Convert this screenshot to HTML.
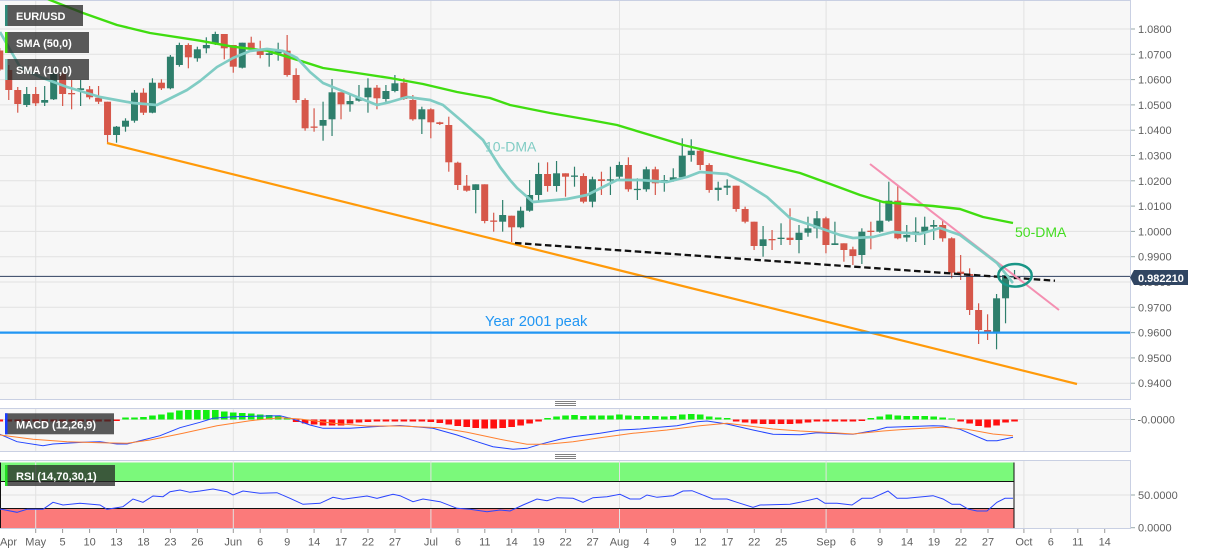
<!DOCTYPE html>
<html><head><meta charset="utf-8">
<style>
html,body{margin:0;padding:0;background:#fff;width:1207px;height:555px;overflow:hidden;}
svg{display:block;font-family:"Liberation Sans",Arial,sans-serif;}
</style></head><body>
<svg id="c" width="1207" height="555" viewBox="0 0 1207 555" xmlns="http://www.w3.org/2000/svg">
<rect width="1207" height="555" fill="#fff"/>
<rect x="0" y="0.5" width="1130" height="398.5" fill="#f7f7f7"/>
<rect x="0" y="408.5" width="1130" height="43" fill="#f7f7f7"/>
<rect x="0" y="460.5" width="1130" height="68" fill="#f7f7f7"/>

<!-- grid -->
<g stroke="#e2e2e2" stroke-width="1">
<line x1="0" x2="1130" y1="29" y2="29"/><line x1="0" x2="1130" y1="54.3" y2="54.3"/><line x1="0" x2="1130" y1="79.6" y2="79.6"/><line x1="0" x2="1130" y1="104.9" y2="104.9"/><line x1="0" x2="1130" y1="130.2" y2="130.2"/><line x1="0" x2="1130" y1="155.5" y2="155.5"/><line x1="0" x2="1130" y1="180.8" y2="180.8"/><line x1="0" x2="1130" y1="206.1" y2="206.1"/><line x1="0" x2="1130" y1="231.4" y2="231.4"/><line x1="0" x2="1130" y1="256.7" y2="256.7"/><line x1="0" x2="1130" y1="282" y2="282"/><line x1="0" x2="1130" y1="307.3" y2="307.3"/><line x1="0" x2="1130" y1="332.6" y2="332.6"/><line x1="0" x2="1130" y1="357.9" y2="357.9"/><line x1="0" x2="1130" y1="383.2" y2="383.2"/>
<line x1="35.7" x2="35.7" y1="0" y2="399"/><line x1="233.3" x2="233.3" y1="0" y2="399"/><line x1="430.9" x2="430.9" y1="0" y2="399"/><line x1="619.5" x2="619.5" y1="0" y2="399"/><line x1="826.1" x2="826.1" y1="0" y2="399"/><line x1="1023.9" x2="1023.9" y1="0" y2="399"/>
<line x1="0" x2="1130" y1="419.5" y2="419.5"/>
<line x1="35.7" x2="35.7" y1="408" y2="452"/><line x1="233.3" x2="233.3" y1="408" y2="452"/><line x1="430.9" x2="430.9" y1="408" y2="452"/><line x1="619.5" x2="619.5" y1="408" y2="452"/><line x1="826.1" x2="826.1" y1="408" y2="452"/><line x1="1023.9" x2="1023.9" y1="408" y2="452"/>
</g>

<!-- RSI bands -->
<rect x="0" y="462.5" width="1014" height="19" fill="#7bf97b"/>
<rect x="0" y="508.5" width="1014" height="19.5" fill="#fb7a7a"/>
<g stroke="#e2e2e2" stroke-width="1">
<line x1="0" x2="1130" y1="495" y2="495"/>
<line x1="35.7" x2="35.7" y1="461" y2="528"/><line x1="233.3" x2="233.3" y1="461" y2="528"/><line x1="430.9" x2="430.9" y1="461" y2="528"/><line x1="619.5" x2="619.5" y1="461" y2="528"/><line x1="826.1" x2="826.1" y1="461" y2="528"/><line x1="1023.9" x2="1023.9" y1="461" y2="528"/>
</g>
<g stroke="#111" stroke-width="1">
<line x1="0" x2="1014" y1="481.5" y2="481.5"/>
<line x1="0" x2="1014" y1="508.5" y2="508.5"/>
<line x1="1014" x2="1014" y1="462.5" y2="528"/>
<line x1="0.5" x2="0.5" y1="462.5" y2="528"/>
</g>

<!-- borders -->
<g stroke="#c9d0e3" stroke-width="1" fill="none">
<line x1="0" x2="1131" y1="0.5" y2="0.5"/><line x1="1130.5" x2="1130.5" y1="0" y2="399.5"/><line x1="0" x2="1131" y1="399.5" y2="399.5"/>
<line x1="0" x2="1131" y1="408.5" y2="408.5"/><line x1="1130.5" x2="1130.5" y1="408" y2="452"/><line x1="0" x2="1131" y1="451.5" y2="451.5"/>
<line x1="0" x2="1131" y1="460.5" y2="460.5"/><line x1="1130.5" x2="1130.5" y1="460" y2="529"/><line x1="0" x2="1131" y1="528.5" y2="528.5"/>
</g>
<!-- handles -->
<g stroke="#808080" stroke-width="1">
<line x1="555" x2="576" y1="401.5" y2="401.5"/><line x1="555" x2="576" y1="403.5" y2="403.5"/><line x1="555" x2="576" y1="405.5" y2="405.5"/>
<line x1="555" x2="576" y1="454.5" y2="454.5"/><line x1="555" x2="576" y1="456.5" y2="456.5"/><line x1="555" x2="576" y1="458.5" y2="458.5"/>
</g>

<g id="candles"></g>
<g id="hist"></g>

<!-- trend lines -->
<line x1="107" y1="143" x2="1077" y2="384" stroke="#ff9a0a" stroke-width="2.2"/>
<line x1="0" y1="332.6" x2="1130" y2="332.6" stroke="#2196f3" stroke-width="2.2"/>
<line x1="0" y1="276.4" x2="1130" y2="276.4" stroke="#2f4060" stroke-width="1"/>
<line x1="515" y1="243" x2="1055" y2="280.7" stroke="#111" stroke-width="2.3" stroke-dasharray="6.5,3.5"/>
<line x1="870" y1="164" x2="1059" y2="310" stroke="#f48fb1" stroke-width="2"/>

<!-- SMAs -->
<polyline fill="none" stroke="#40dd10" stroke-width="2.4" stroke-linejoin="round" points="40,-5 50,0 83,13 117,25 150,33 200,40.7 233,46.7 267,50.7 300,60.7 323,68 357,73 390,78 423,84 457,92 490,98 510,105 550,113 590,120 617,125 650,135 683,145 700,149 733,157 767,165 800,173 833,185 860,195 883,202 900,203.5 933,206 960,209 983,217 1013,223"/>
<polyline fill="none" stroke="#80ccc4" stroke-width="2.7" stroke-linejoin="round" points="0,32 20,67 40,77 67,87 100,97 133,103 157,105 187,90 200,81 217,67 233,58 250,51 267,49 283,51 297,58 310,72 323,83 357,97 377,105 390,102 407,97 430,100 443,105 463,122 483,140 500,167 510,180 517,188 533,202 567,199 587,195 617,180 640,180 667,182 687,177 700,172 727,174 743,182 767,197 790,218 817,227 840,235 853,238 873,237 893,232 920,234 940,228 960,235 980,250 997,263 1013,283"/>

<ellipse cx="1015" cy="275.3" rx="16.7" ry="11.3" fill="none" stroke="#1a9687" stroke-width="2.5"/>

<!-- annotations -->
<text x="485" y="151.5" font-size="14" fill="#80ccc4">10-DMA</text>
<text x="485" y="326" font-size="14.7" fill="#2196f3">Year 2001 peak</text>
<text x="1015" y="237" font-size="14" fill="#44dd22">50-DMA</text>

<!-- MACD lines -->
<polyline fill="none" stroke="#2244ff" stroke-width="1" points="0,434.3 17,441.7 43,445.7 53,444 83,442.3 100,441.7 117,444 127,444 143,440 160,435.7 180,427.7 200,422.3 213,418.3 233,416.7 280,415.7 293,419 310,425 323,428.3 350,428.3 373,426.7 400,425.5 433,428.3 457,435 477,441.7 493,446.7 513,449.3 527,448.3 540,444.3 560,439.3 573,436.7 600,433.3 620,430 640,429 653,427.7 677,425.7 697,421.7 707,421 727,424 753,430 773,434.3 800,434.7 817,432.7 853,434.3 877,430 887,427.3 933,425.7 943,426 960,429.3 987,440.7 997,440.7 1013,437.3"/>
<polyline fill="none" stroke="#ff8030" stroke-width="1" points="0,435 33,439.3 67,441.7 100,442.7 127,443.3 150,440 183,433.3 217,425.7 250,420.7 280,417.7 300,419 333,423.3 367,426 400,426 440,427.7 467,432.3 500,439.3 527,444.3 547,444.3 573,441.7 600,437.7 633,433.3 667,430 700,425.7 727,423.3 747,425.7 773,429 800,431 833,432.7 853,434 883,431 910,429 943,427.3 967,429.3 993,434 1013,435.7"/>

<!-- RSI line -->
<polyline fill="none" stroke="#2b45ff" stroke-width="1" points="0,509 17,512.3 27,509.3 43,509.3 53,502.3 63,505 80,503.3 100,505 107,509.3 123,506.7 133,499 143,502.3 153,496 163,496.7 170,491.7 180,490 190,492.3 200,491 213,489 227,491.7 233,495 243,491 260,493.3 277,492.7 290,498.3 303,504.3 320,503.3 333,497.3 343,499.3 367,496 377,498.3 393,494.3 400,495.7 413,501.7 423,499 440,501.7 457,508.3 470,509.3 487,511.7 500,510 510,511 523,505 537,499 547,500.7 557,497.7 573,498.3 583,502.3 593,497.7 607,496.7 620,494.3 630,499 640,499 647,495 657,497.3 673,495.7 683,491 692,490.7 713,499 727,499 737,502.3 753,507.3 760,505 790,504.3 800,502.3 817,498.3 825,503.3 837,503.3 852,505 862,498.3 872,498.3 888,491 897,498.3 907,498.3 933,495.7 943,499 952,504.3 960,504.3 968,509 977,511 987,511 997,502.3 1005,498.3 1013,498.3"/>

<!-- label boxes -->
<rect x="5" y="5" width="78" height="21" fill="rgba(40,40,40,0.76)"/><rect x="5" y="5" width="2.5" height="21" fill="#2e8b7a"/>
<text x="16" y="20" font-size="11" font-weight="bold" fill="#fff">EUR/USD</text>
<rect x="5" y="32" width="84" height="21" fill="rgba(40,40,40,0.76)"/><rect x="5" y="32" width="2.5" height="21" fill="#40dd10"/>
<text x="16" y="47" font-size="11" font-weight="bold" fill="#fff">SMA (50,0)</text>
<rect x="5" y="59" width="84" height="21" fill="rgba(40,40,40,0.76)"/><rect x="5" y="59" width="2.5" height="21" fill="#80ccc4"/>
<text x="16" y="74" font-size="11" font-weight="bold" fill="#fff">SMA (10,0)</text>
<rect x="5" y="413.3" width="109" height="21" fill="rgba(40,40,40,0.76)"/><rect x="5" y="413.3" width="2.5" height="21" fill="#1a3cff"/>
<text x="16" y="428.3" font-size="11" font-weight="bold" fill="#fff">MACD (12,26,9)</text>
<rect x="5" y="465" width="110" height="21" fill="rgba(40,40,40,0.76)"/><rect x="5" y="465" width="2.5" height="21" fill="#22dd22"/>
<text x="16" y="480" font-size="11" font-weight="bold" fill="#fff">RSI (14,70,30,1)</text>

<!-- right axis -->
<g stroke="#9aa" stroke-width="1">
<line x1="1131" x2="1135" y1="29" y2="29"/><line x1="1131" x2="1135" y1="54.3" y2="54.3"/><line x1="1131" x2="1135" y1="79.6" y2="79.6"/><line x1="1131" x2="1135" y1="104.9" y2="104.9"/><line x1="1131" x2="1135" y1="130.2" y2="130.2"/><line x1="1131" x2="1135" y1="155.5" y2="155.5"/><line x1="1131" x2="1135" y1="180.8" y2="180.8"/><line x1="1131" x2="1135" y1="206.1" y2="206.1"/><line x1="1131" x2="1135" y1="231.4" y2="231.4"/><line x1="1131" x2="1135" y1="256.7" y2="256.7"/><line x1="1131" x2="1135" y1="307.3" y2="307.3"/><line x1="1131" x2="1135" y1="332.6" y2="332.6"/><line x1="1131" x2="1135" y1="357.9" y2="357.9"/><line x1="1131" x2="1135" y1="383.2" y2="383.2"/>
<line x1="1131" x2="1135" y1="419.5" y2="419.5"/><line x1="1131" x2="1135" y1="495" y2="495"/><line x1="1131" x2="1135" y1="527.7" y2="527.7"/>
</g>
<g font-size="11" fill="#5f5f5f">
<text x="1138" y="33">1.0800</text><text x="1138" y="58.3">1.0700</text><text x="1138" y="83.6">1.0600</text><text x="1138" y="108.9">1.0500</text><text x="1138" y="134.2">1.0400</text><text x="1138" y="159.5">1.0300</text><text x="1138" y="184.8">1.0200</text><text x="1138" y="210.1">1.0100</text><text x="1138" y="235.4">1.0000</text><text x="1138" y="260.7">0.9900</text><text x="1138" y="286">0.9800</text><text x="1138" y="311.3">0.9700</text><text x="1138" y="336.6">0.9600</text><text x="1138" y="361.9">0.9500</text><text x="1138" y="387.2">0.9400</text>
<text x="1137.5" y="423.5">-0.0000</text><text x="1138" y="499">50.0000</text><text x="1138" y="531.7">0.0000</text>
</g>
<polygon points="1130,277.5 1134,270 1188,270 1188,285 1134,285" fill="#304562"/>
<text x="1138" y="281.8" font-size="11" font-weight="bold" fill="#fff">0.982210</text>

<!-- x axis -->
<g stroke="#999" stroke-width="1">
<line x1="35.7" x2="35.7" y1="529" y2="533"/><line x1="62.6" x2="62.6" y1="529" y2="533"/><line x1="89.6" x2="89.6" y1="529" y2="533"/><line x1="116.5" x2="116.5" y1="529" y2="533"/><line x1="143.5" x2="143.5" y1="529" y2="533"/><line x1="170.4" x2="170.4" y1="529" y2="533"/><line x1="197.4" x2="197.4" y1="529" y2="533"/><line x1="233.3" x2="233.3" y1="529" y2="533"/><line x1="260.2" x2="260.2" y1="529" y2="533"/><line x1="287.2" x2="287.2" y1="529" y2="533"/><line x1="314.1" x2="314.1" y1="529" y2="533"/><line x1="341.1" x2="341.1" y1="529" y2="533"/><line x1="368" x2="368" y1="529" y2="533"/><line x1="395" x2="395" y1="529" y2="533"/><line x1="430.9" x2="430.9" y1="529" y2="533"/><line x1="457.9" x2="457.9" y1="529" y2="533"/><line x1="484.8" x2="484.8" y1="529" y2="533"/><line x1="511.7" x2="511.7" y1="529" y2="533"/><line x1="538.7" x2="538.7" y1="529" y2="533"/><line x1="565.6" x2="565.6" y1="529" y2="533"/><line x1="592.6" x2="592.6" y1="529" y2="533"/><line x1="619.5" x2="619.5" y1="529" y2="533"/><line x1="646.5" x2="646.5" y1="529" y2="533"/><line x1="673.4" x2="673.4" y1="529" y2="533"/><line x1="700.4" x2="700.4" y1="529" y2="533"/><line x1="727.3" x2="727.3" y1="529" y2="533"/><line x1="754.3" x2="754.3" y1="529" y2="533"/><line x1="781.2" x2="781.2" y1="529" y2="533"/><line x1="826.1" x2="826.1" y1="529" y2="533"/><line x1="853.1" x2="853.1" y1="529" y2="533"/><line x1="880" x2="880" y1="529" y2="533"/><line x1="907" x2="907" y1="529" y2="533"/><line x1="934" x2="934" y1="529" y2="533"/><line x1="961" x2="961" y1="529" y2="533"/><line x1="988" x2="988" y1="529" y2="533"/><line x1="1023.9" x2="1023.9" y1="529" y2="533"/><line x1="1050.8" x2="1050.8" y1="529" y2="533"/><line x1="1077.8" x2="1077.8" y1="529" y2="533"/><line x1="1104.7" x2="1104.7" y1="529" y2="533"/>
</g>
<g font-size="11" fill="#5f5f5f" text-anchor="middle">
<text x="8.5" y="545.5">Apr</text><text x="35.7" y="545.5">May</text><text x="62.6" y="545.5">5</text><text x="89.6" y="545.5">10</text><text x="116.5" y="545.5">13</text><text x="143.5" y="545.5">18</text><text x="170.4" y="545.5">23</text><text x="197.4" y="545.5">26</text><text x="233.3" y="545.5">Jun</text><text x="260.2" y="545.5">6</text><text x="287.2" y="545.5">9</text><text x="314.1" y="545.5">14</text><text x="341.1" y="545.5">17</text><text x="368" y="545.5">22</text><text x="395" y="545.5">27</text><text x="430.9" y="545.5">Jul</text><text x="457.9" y="545.5">6</text><text x="484.8" y="545.5">11</text><text x="511.7" y="545.5">14</text><text x="538.7" y="545.5">19</text><text x="565.6" y="545.5">22</text><text x="592.6" y="545.5">27</text><text x="619.5" y="545.5">Aug</text><text x="646.5" y="545.5">4</text><text x="673.4" y="545.5">9</text><text x="700.4" y="545.5">12</text><text x="727.3" y="545.5">17</text><text x="754.3" y="545.5">22</text><text x="781.2" y="545.5">25</text><text x="826.1" y="545.5">Sep</text><text x="853.1" y="545.5">6</text><text x="880" y="545.5">9</text><text x="907" y="545.5">14</text><text x="934" y="545.5">19</text><text x="961" y="545.5">22</text><text x="988" y="545.5">27</text><text x="1023.9" y="545.5">Oct</text><text x="1050.8" y="545.5">6</text><text x="1077.8" y="545.5">11</text><text x="1104.7" y="545.5">14</text>
</g>
</svg>
<script>
(function(){
var NS='http://www.w3.org/2000/svg';
function el(tag,a,p){var e=document.createElementNS(NS,tag);for(var k in a)e.setAttribute(k,a[k]);p.appendChild(e);return e;}
function X(i){return 35.7+8.98*(i-4);}
var C=[
[50.5,69.5,48,71],[70,90,65,100],[90,104,87,112.7],[105,94,87,107],[94,103.3,87,106],[102.7,100,86,106],[99.3,74,66.7,100],[74,94,70.7,106],[93,94,80,109.3],[90,88.3,80,106],
[89.3,97.3,86,99.3],[97.7,101.7,86,104],[101.7,135,101.7,143],[135,126.7,126,142.7],[126.7,120.7,118.3,131.7],[120.7,92.7,90,122.7],[92.7,112.7,88.3,115],[112.7,82.7,78.3,113.3],[82.7,88.3,79.3,90],[88.3,56.7,55,89.3],
[65,45,42.7,66.7],[45,57.3,43.3,68.3],[58.3,49.3,46.7,61.7],[48.3,45,37.3,53.3],[44,34,31.7,45],[34,48.3,34,59.3],[45,66.7,45,72.7],[67.7,42.7,42.7,68.5],[42.7,48.3,36.7,51.7],[50,55,40.7,58.3],
[55,53.3,51.7,66.7],[53.3,50.7,42.7,60.7],[50.7,75,35,76.7],[75,100,68.3,102.7],[100,128.3,98.3,130.7],[126.5,127.2,108.3,131.7],[125.7,120,101.7,140.7],[119.3,92.3,79,136],[92.3,104.3,92.3,119.3],[104.3,101,93.3,111.7],
[100.7,97.7,85,101.7],[97.3,87.7,78.3,112.7],[87.7,98.3,85,109.3],[99,91,85,101.7],[91,83.3,75,92.3],[82.7,99,78.3,100],[100,119.3,95,120.7],[119.3,109.3,106.7,134],[109.3,122.3,108.3,138.3],[122.3,124,121.7,125],
[125,162.3,116.7,171.7],[162.7,185,161.7,190],[185.7,190.7,175,191.7],[190,184.3,184.3,213.3],[184.3,221,184.3,223.3],[220.5,221.5,212.7,231.7],[221.7,215,200,231.7],[215.7,227.3,215.7,242],[227.3,210.7,206.7,228.3],[210.7,195,180,211.7],
[195,174,162.7,201.7],[174,186,162.3,191.7],[186,173.3,161,191.7],[173.3,176.7,173.3,196.7],[176.5,175.5,166.7,186.7],[176,201.7,173.3,203.3],[201.7,179.3,176.7,207.3],[179.3,181,171.7,195],[180.3,179.3,166.7,195],[176.7,165,161.7,180],
[165,189.3,157.3,191.7],[189.8,188.8,178.3,200],[189.3,169.3,166.7,191.7],[169.3,183.3,166.7,195],[182.7,180,175,191.7],[180.7,177.3,168.3,181.7],[177.3,155.7,138.3,179.3],[155,150.7,139.3,161.7],[150.7,165,148.3,170],[165,190,163.3,192.7],
[190,187.7,181.7,200.7],[187.7,185.7,179.3,195],[185.7,209,185.7,211.7],[209,221.7,206.7,223.3],[221.7,246,221.7,250],[246,239.3,226,256.7],[239,240,230,250],[239,237.7,223.3,245],[237.7,240,208.3,245],[240,232.7,225,253.3],
[232.7,228.3,216.7,236.7],[228.3,218.3,211,238.3],[218.3,245,216.7,253.3],[245,243.3,221.7,245],[243.3,250,243.3,261.7],[249.3,256,246.7,265],[255,231.7,228.3,264],[230.7,231.7,221.7,249.3],[231.7,220.7,201.7,232.7],[220.7,200.7,181.7,221.7],
[200.7,238.3,185,239.3],[237.5,235,225,241.7],[234,231.7,217.3,242],[231.7,226.7,216.7,245],[226.7,225,220,240],[225,238.3,220,241.7],[238.3,272.7,237.3,278.3],[271.7,274,255,280],[274,310,268.3,315],[310,330,303.3,344],
[330,332.7,314.3,340],[332.7,298.3,294,349.3],[298.3,275,273.3,323.3],[277,276.3,270,279.3]
];
var H=[-2,-2,-2,-2,-2,-2,-2,-2,-2,-2,
-2,-2,-2,-1.5,2,2,2.5,4,5,7,
9,9.5,9.5,9.5,9.5,8,7,6.5,6,5,
4.5,4,2,-2.5,-4,-5,-6,-6,-6,-4,
-3,-2.5,-2,-2,-2,-2,-2,-2,-2.5,-3.5,
-5,-6.5,-7.5,-8.5,-9,-9,-8.5,-7.5,-6,-4,
-2,1.5,3,4,4.5,3.5,4,4,4,5,
4,3.5,3.5,3.5,3,3.5,5,5.5,5,3,
2,1.5,-2,-3,-4,-4.5,-4.5,-4.5,-4.5,-4,
-3,-2,-2,-2,-2,-2,-1.5,1.5,3,5,
4,3.5,3.5,3.5,3,2,1,-2,-4,-6.5,
-8,-6,-3,-2];
var gC=document.getElementById('candles'),gH=document.getElementById('hist');
for(var i=0;i<C.length;i++){
 var d=C[i],x=X(i),o=d[0],c=d[1],h=d[2],l=d[3];
 var col=c<o?'#2e7f6c':'#d6574a';
 el('line',{x1:x,x2:x,y1:h,y2:l,stroke:col,'stroke-width':1.2},gC);
 var t=Math.min(o,c),ht=Math.max(1.3,Math.abs(o-c));
 el('rect',{x:x-3.5,y:t,width:7,height:ht,fill:col},gC);
}
var base=419.5;
for(var j=0;j<H.length;j++){
 var v=H[j],xx=X(j),m=Math.abs(v);
 el('rect',{x:xx-3.3,y:v>0?base-m:base,width:6.6,height:m,fill:v>0?'#11ee11':'#ff1010'},gH);
}
})();
</script>
</body></html>
